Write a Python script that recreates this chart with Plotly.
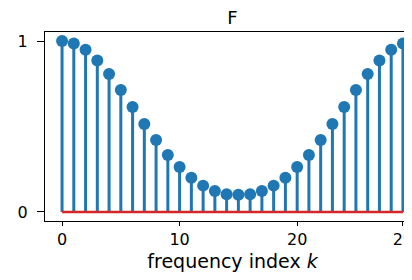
import plotly.graph_objects as go

k = list(range(30))
F = [1.0, 0.986, 0.949, 0.886, 0.807, 0.713, 0.614, 0.515, 0.421, 0.333,
     0.263, 0.2, 0.154, 0.122, 0.104, 0.1, 0.104, 0.122, 0.154, 0.2,
     0.263, 0.333, 0.421, 0.515, 0.614, 0.713, 0.807, 0.886, 0.949, 0.986]
x_ticks = [0, 10, 20, 29]
y_ticks = [0, 1]

blue = "#1f77b4"
red = "#d62728"

sx, sy = [], []
for xi, yi in zip(k, F):
    sx += [xi, xi, None]
    sy += [0, yi, None]

fig = go.Figure()
fig.add_trace(go.Scatter(x=sx, y=sy, mode="lines", line=dict(color=blue, width=3),
                         hoverinfo="skip", showlegend=False))
fig.add_trace(go.Scatter(x=[k[0], k[-1]], y=[0, 0], mode="lines",
                         line=dict(color=red, width=2.5), showlegend=False))
fig.add_trace(go.Scatter(x=k, y=F, mode="markers",
                         marker=dict(color=blue, size=12, symbol="circle"),
                         cliponaxis=False, showlegend=False))

font = "DejaVu Sans"
fig.update_layout(
    width=412, height=280,
    margin=dict(l=37, r=0, t=24, b=67),
    paper_bgcolor="white", plot_bgcolor="white",
    font=dict(family=font, size=16, color="black"),
    title=dict(text="F", x=0.5, xref="paper", xanchor="center",
               y=1 - 3 / 280, yref="container", yanchor="top", pad=dict(t=0),
               font=dict(size=18)),
    xaxis=dict(range=[-1.45, 30.45], tickvals=x_ticks, ticktext=[str(t) for t in x_ticks],
               showgrid=False, zeroline=False, showline=True, linecolor="black",
               linewidth=1.2, mirror=True, ticks="outside", ticklen=4,
               tickcolor="black", title=dict(text="frequency index <i>k</i>",
               standoff=6, font=dict(size=19))),
    yaxis=dict(range=[-0.053, 1.053], tickvals=y_ticks, ticktext=["0", "1"],
               showgrid=False, zeroline=False, showline=True, linecolor="black",
               linewidth=1.2, mirror=True, ticks="outside", ticklen=7, tickcolor="black",
               ticklabelstandoff=6),
)
fig.write_html("out.html")
